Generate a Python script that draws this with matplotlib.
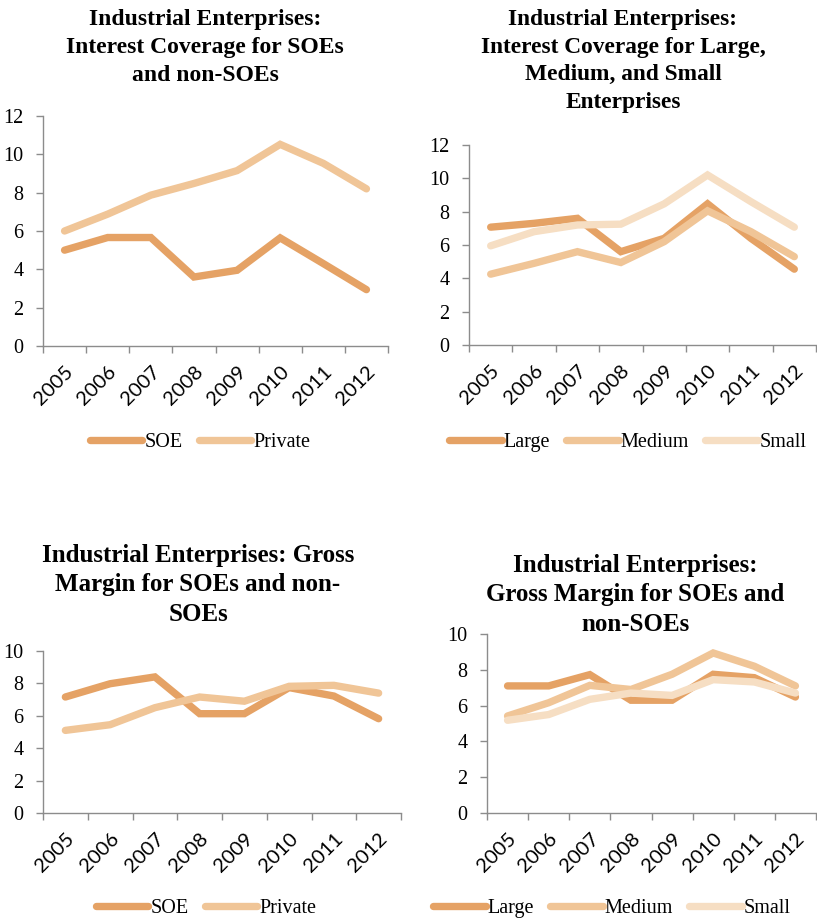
import matplotlib
matplotlib.use("Agg")
import matplotlib.pyplot as plt
from matplotlib.ticker import FixedLocator

plt.rcParams['font.family'] = ['Liberation Serif', 'DejaVu Serif']

years = ['2005', '2006', '2007', '2008', '2009', '2010', '2011', '2012']

# Interest coverage, SOE vs private
ic_soe = [5.0, 5.66, 5.66, 3.6, 3.95, 5.64, 4.3, 2.94]
ic_private = [6.0, 6.88, 7.87, 8.48, 9.15, 10.52, 9.53, 8.2]

# Interest coverage by enterprise size
ic_large = [7.07, 7.3, 7.6, 5.6, 6.4, 8.47, 6.4, 4.55]
ic_medium = [4.25, 4.9, 5.6, 4.95, 6.2, 8.05, 6.8, 5.3]
ic_small = [5.95, 6.8, 7.2, 7.25, 8.47, 10.2, 8.6, 7.07]

# Gross margin, SOE vs private
gm_soe = [7.16, 7.98, 8.4, 6.13, 6.13, 7.74, 7.22, 5.82]
gm_private = [5.1, 5.45, 6.5, 7.16, 6.9, 7.82, 7.88, 7.4]

# Gross margin by enterprise size
gm_large = [7.1, 7.1, 7.73, 6.3, 6.3, 7.75, 7.56, 6.48]
gm_medium = [5.42, 6.16, 7.13, 6.9, 7.75, 8.94, 8.2, 7.1]
gm_small = [5.18, 5.5, 6.35, 6.7, 6.57, 7.45, 7.32, 6.7]

C_DARK = '#E5A265'
C_MID = '#F0C597'
C_LIGHT = '#F6DEC3'
AXIS_GRAY = '#8C8C8C'

W, H = 817, 923
fig = plt.figure(figsize=(W / 100, H / 100), dpi=100)


def make_axes(left, right, top, bottom):
    return fig.add_axes([left / W, 1 - bottom / H, (right - left) / W, (bottom - top) / H])


def style(ax, ymax, ystep):
    x = list(range(len(years)))
    ax.set_xlim(-0.5, len(years) - 0.5)
    ax.set_ylim(0, ymax)
    ax.set_yticks(range(0, ymax + 1, ystep))
    ax.set_xticks(x)
    ax.set_xticklabels(years, rotation=45, ha='right', va='top', rotation_mode='anchor',
                       family=['Lato', 'DejaVu Sans'], fontsize=14.5)
    ax.xaxis.set_minor_locator(FixedLocator([i - 0.5 for i in range(len(years) + 1)]))
    ax.tick_params(axis='x', which='major', length=0, pad=12)
    ax.tick_params(axis='x', which='minor', length=5, color=AXIS_GRAY, width=1)
    ax.tick_params(axis='y', length=5, color=AXIS_GRAY, width=1, pad=9, labelsize=14.5)
    for s in ('top', 'right'):
        ax.spines[s].set_visible(False)
    for s in ('left', 'bottom'):
        ax.spines[s].set_color(AXIS_GRAY)
        ax.spines[s].set_linewidth(1)
    ax.patch.set_alpha(0)


def draw(ax, series):
    x = list(range(len(years)))
    handles = []
    for vals, color, label in series:
        h, = ax.plot(x, vals, color=color, lw=5.3, solid_capstyle='round',
                     solid_joinstyle='miter', label=label)
        handles.append(h)
    return handles


def legend(ax, handles, cx, cy):
    fig.legend(handles=handles, loc='center', bbox_to_anchor=(cx / W, 1 - cy / H),
               ncol=len(handles), frameon=False, fontsize=14.5, handlelength=2.6,
               handletextpad=0.1, columnspacing=0.8, borderaxespad=0)


def title(text, cx, top, size, spacing):
    fig.text(cx / W, 1 - top / H, text, ha='center', va='top', fontsize=size,
             fontweight='bold', linespacing=spacing)


# Top left
ax1 = make_axes(43, 388, 116, 346)
style(ax1, 12, 2)
h1 = draw(ax1, [(ic_soe, C_DARK, 'SOE'), (ic_private, C_MID, 'Private')])
legend(ax1, h1, 200, 442)
title('Industrial Enterprises:\nInterest Coverage for SOEs\nand non-SOEs', 205, 9, 17, 1.43)

# Top right
ax2 = make_axes(469, 816, 145, 345)
style(ax2, 12, 2)
h2 = draw(ax2, [(ic_large, C_DARK, 'Large'), (ic_medium, C_MID, 'Medium'),
                (ic_small, C_LIGHT, 'Small')])
legend(ax2, h2, 628, 442)
title('Industrial Enterprises:\nInterest Coverage for Large,\nMedium, and Small\nEnterprises',
      623, 9, 16.8, 1.41)

# Bottom left
ax3 = make_axes(43, 401, 651, 813)
style(ax3, 10, 2)
h3 = draw(ax3, [(gm_soe, C_DARK, 'SOE'), (gm_private, C_MID, 'Private')])
legend(ax3, h3, 206, 908)
title('Industrial Enterprises: Gross\nMargin for SOEs and non-\nSOEs', 198, 544, 18, 1.35)

# Bottom right
ax4 = make_axes(487, 816, 634, 813)
style(ax4, 10, 2)
h4 = draw(ax4, [(gm_large, C_DARK, 'Large'), (gm_medium, C_MID, 'Medium'),
                (gm_small, C_LIGHT, 'Small')])
legend(ax4, h4, 612, 908)
title('Industrial Enterprises:\nGross Margin for SOEs and\nnon-SOEs', 635, 554, 18, 1.35)

fig.savefig('out.png', dpi=100)
